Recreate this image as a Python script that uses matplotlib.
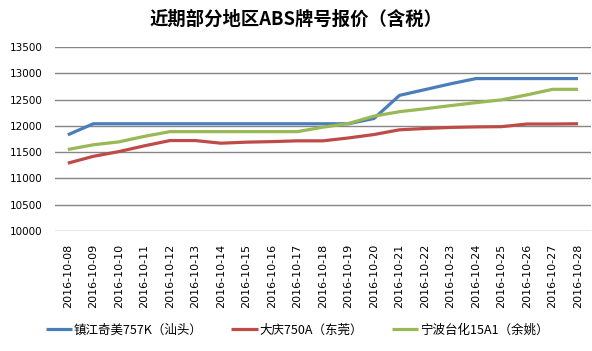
import matplotlib
matplotlib.use('Agg')
import matplotlib.pyplot as plt

plt.rcParams['font.family'] = ['Noto Sans CJK SC', 'DejaVu Sans']

dates = ['2016-10-%02d' % d for d in range(8, 29)]

zhenjiang = [11830, 12040, 12040, 12040, 12040, 12040, 12040, 12040, 12040, 12040,
             12040, 12040, 12140, 12580, 12690, 12800, 12900, 12900, 12900, 12900, 12900]
daqing = [11290, 11420, 11510, 11620, 11720, 11720, 11670, 11690, 11700, 11715,
          11715, 11770, 11835, 11925, 11950, 11970, 11980, 11985, 12035, 12035, 12040]
ningbo = [11550, 11640, 11695, 11800, 11890, 11890, 11890, 11890, 11890, 11890,
          11975, 12045, 12185, 12270, 12325, 12385, 12442, 12495, 12590, 12695, 12695]

labels = ['镇江奇美757K（汕头）', '大庆750A（东莞）', '宁波台化15A1（余姚）']
colors = ['#4A7EBB', '#BE4B48', '#98B954']


def main():
    fig = plt.figure(figsize=(5.92, 3.51), dpi=100)
    ax = fig.add_axes([0.093, 0.342, 0.905, 0.524])

    x = list(range(len(dates)))
    for ys, lab, c in zip([zhenjiang, daqing, ningbo], labels, colors):
        ax.plot(x, ys, color=c, lw=2.3, label=lab, solid_capstyle='butt')

    ax.set_xlim(-0.5, len(dates) - 0.5)
    ax.set_ylim(10000, 13500)
    ax.set_yticks(range(10000, 13501, 500))
    ax.set_xticks(x)
    ax.set_xticklabels(dates, rotation=90, fontsize=8, family='DejaVu Sans')
    for t in ax.get_yticklabels():
        t.set_family('DejaVu Sans')
    ax.tick_params(axis='y', labelsize=7.5, length=0, pad=9)
    ax.tick_params(axis='x', length=0, pad=9)
    ax.grid(axis='y', color='#868686', lw=1)
    ax.set_axisbelow(True)
    for s in ax.spines.values():
        s.set_visible(False)

    fig.text(0.5, 0.946, '近期部分地区ABS牌号报价（含税）', ha='center', va='center',
             fontsize=13.2, fontweight='bold')

    fig.legend(loc='center', bbox_to_anchor=(0.502, 0.06), ncol=3, frameon=False,
               fontsize=9, handlelength=2.1, handletextpad=0.16, columnspacing=2.3)

    fig.savefig('out.png', dpi=100)


if __name__ == "__main__":
    main()
